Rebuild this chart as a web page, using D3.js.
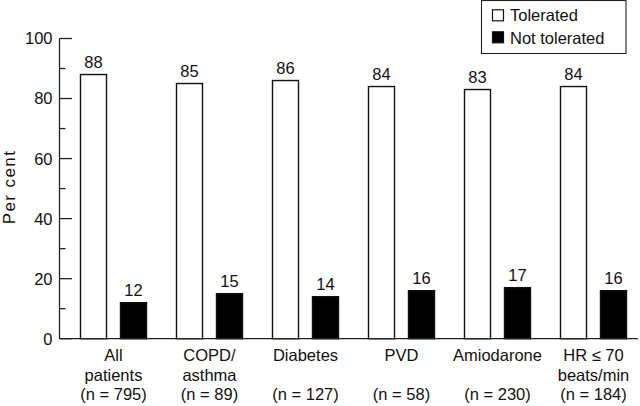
<!DOCTYPE html>
<html>
<head>
<meta charset="utf-8">
<script src="https://cdn.jsdelivr.net/npm/d3@7"></script>
<style>
  html, body { margin: 0; padding: 0; background: #fff; }
  svg { display: block; font-family: "Liberation Sans", Arial, Helvetica, sans-serif; }
</style>
</head>
<body>
<svg id="chart" width="640" height="406"></svg>
<script>
// ---- data ----
const categories = ["All patients", "COPD/ asthma", "Diabetes", "PVD", "Amiodarone", "HR ≤ 70 beats/min"];
const categoryLines = [["All", "patients"], ["COPD/", "asthma"], ["Diabetes", ""], ["PVD", ""], ["Amiodarone", ""], ["HR ≤ 70", "beats/min"]];
const groupSizes = ["(n = 795)", "(n = 89)", "(n = 127)", "(n = 58)", "(n = 230)", "(n = 184)"];
const seriesNames = ["Tolerated", "Not tolerated"];
const tolerated = [88, 85, 86, 84, 83, 84];
const notTolerated = [12, 15, 14, 16, 17, 16];
const yTicks = [0, 20, 40, 60, 80, 100];
const yMinorTicks = [10, 30, 50, 70, 90];

// ---- layout ----
const svg = d3.select("#chart");
const fontSize = 16.5;
const axisX = 59.5;
const y = d3.scaleLinear().domain([0, 100]).range([338.7, 38.5]);

const x0 = d3.scaleBand().domain(categories).range([80, 627]).paddingInner(29 / 96).paddingOuter(0);
const x1 = d3.scaleBand().domain(seriesNames).range([0, x0.bandwidth()]).paddingInner(0.325).paddingOuter(0);
const fills = { "Tolerated": "#ffffff", "Not tolerated": "#000000" };

const rows = categories.map((c, i) => ({ cat: c, values: [
  { s: "Tolerated", v: tolerated[i] },
  { s: "Not tolerated", v: notTolerated[i] }
]}));

// bars
const g = svg.append("g");
const groups = g.selectAll("g.grp").data(rows).join("g")
  .attr("transform", d => `translate(${x0(d.cat)},0)`);

groups.selectAll("rect").data(d => d.values).join("rect")
  .attr("x", d => x1(d.s) + 0.5)
  .attr("y", d => y(d.v))
  .attr("width", x1.bandwidth() - 1)
  .attr("height", d => y(0) - y(d.v))
  .attr("fill", d => fills[d.s])
  .attr("stroke", "#111")
  .attr("stroke-width", 1.4);

groups.selectAll("text.val").data(d => d.values).join("text")
  .attr("class", "val")
  .attr("x", d => x1(d.s) + x1.bandwidth() / 2)
  .attr("y", d => y(d.v) - 6.5)
  .attr("text-anchor", "middle")
  .attr("font-size", fontSize)
  .attr("fill", "#111")
  .text(d => d.v);

// y axis
const yAxis = svg.append("g");
yAxis.append("line")
  .attr("x1", axisX).attr("x2", axisX)
  .attr("y1", y(100)).attr("y2", y(0))
  .attr("stroke", "#222").attr("stroke-width", 1.3);
yAxis.selectAll("line.major").data(yTicks).join("line")
  .attr("class", "major")
  .attr("x1", axisX).attr("x2", axisX + 12.5)
  .attr("y1", d => y(d)).attr("y2", d => y(d))
  .attr("stroke", "#222").attr("stroke-width", 1.3);
yAxis.selectAll("line.minor").data(yMinorTicks).join("line")
  .attr("class", "minor")
  .attr("x1", axisX).attr("x2", axisX + 6)
  .attr("y1", d => y(d)).attr("y2", d => y(d))
  .attr("stroke", "#222").attr("stroke-width", 1.3);
yAxis.selectAll("text").data(yTicks).join("text")
  .attr("x", axisX - 7)
  .attr("y", d => y(d))
  .attr("dy", "0.36em")
  .attr("text-anchor", "end")
  .attr("font-size", fontSize)
  .attr("fill", "#111")
  .text(d => d);

// x axis baseline
svg.append("line")
  .attr("x1", axisX).attr("x2", 638)
  .attr("y1", y(0)).attr("y2", y(0))
  .attr("stroke", "#222").attr("stroke-width", 1.3);

// y title
svg.append("text")
  .attr("transform", `translate(15,187) rotate(-90)`)
  .attr("text-anchor", "middle")
  .attr("font-size", 17)
  .attr("letter-spacing", 1.4)
  .attr("fill", "#111")
  .text("Per cent");

// x labels
const xl = svg.append("g");
categories.forEach((c, i) => {
  const cx = x0(c) + x0.bandwidth() / 2;
  const lines = [categoryLines[i][0], categoryLines[i][1], groupSizes[i]];
  lines.forEach((t, j) => {
    if (!t) return;
    xl.append("text")
      .attr("x", cx)
      .attr("y", 361 + j * 19.7)
      .attr("text-anchor", "middle")
      .attr("font-size", fontSize)
      .attr("fill", "#111")
      .text(t);
  });
});

// legend
const lg = svg.append("g");
lg.append("rect")
  .attr("x", 481.5).attr("y", 0.5)
  .attr("width", 144.5).attr("height", 53)
  .attr("fill", "#fff").attr("stroke", "#222").attr("stroke-width", 1.1);
seriesNames.forEach((s, i) => {
  lg.append("rect")
    .attr("x", 492.5).attr("y", 9.8 + i * 22)
    .attr("width", 11).attr("height", 11)
    .attr("fill", fills[s]).attr("stroke", "#111").attr("stroke-width", 1.2);
  lg.append("text")
    .attr("x", 510).attr("y", 21.3 + i * 22.2)
    .attr("font-size", fontSize)
    .attr("fill", "#111")
    .text(s);
});
</script>
</body>
</html>
